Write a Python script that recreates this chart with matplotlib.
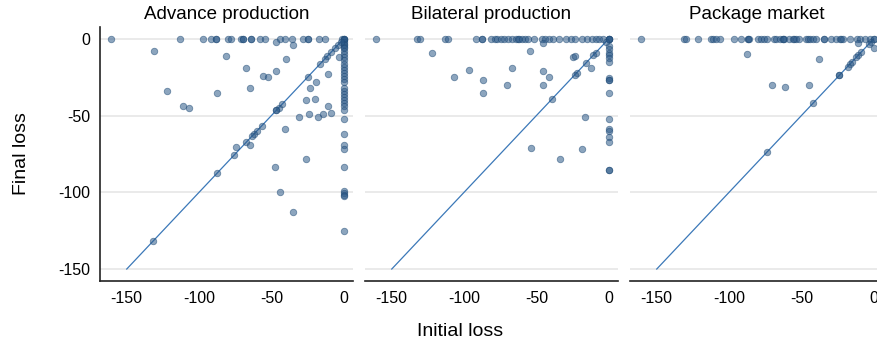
import matplotlib.pyplot as plt
import numpy as np

plt.rcParams['font.family'] = ['Liberation Sans', 'DejaVu Sans']
plt.rcParams['axes.unicode_minus'] = False

titles = ['Advance production', 'Bilateral production', 'Package market']

# Advance production: (initial loss, final loss)
adv_top_x = [-161, -113, -97, -92, -88.5, -88.5, -80, -77.6, -70.7, -69.6, -69.6,
             -63.8, -63.8, -58, -54.6, -44.2, -40.8, -35.7, -28, -24.7, -24.7,
             -17.1, -12.9, -1]
adv_col_y = [0, 0, 0, -1, -2, -3, -4, -5, -6, -8, -10, -12, -14, -16, -18, -20,
             -22, -24, -26, -28, -32, -34, -36, -38, -40, -42, -44, -46, -52,
             -62, -69, -72, -83.5, -99, -100.5, -101.5, -102.5, -125]
adv_diag = [-2, -3.9, -6.2, -8.8, -11.3, -12.9, -16.6, -24.9, -42.6, -44.9, -46.5,
            -46.5, -56.7, -59.7, -62.2, -63.1, -67.3, -75.5, -87.6, -132]
adv_other_x = [-131, -81.5, -47, -34.8, -39.9, -67.7, -46.5, -55.8, -52.5, -64.5,
               -87.6, -122, -111, -107, -11, -18.9, -23, -26, -20, -11, -9, -14.3,
               -18, -24, -30.9, -40.5, -25.8, -64.5, -74.6, -47.7, -43.7, -34.8, -3]
adv_other_y = [-7.8, -10.9, -2, -3.9, -13, -19, -21, -24.2, -25, -32, -35, -34, -44,
               -45, -23, -28, -32, -40, -39, -44, -48, -49, -51, -49, -51, -59, -78,
               -69, -70.4, -83.4, -99.6, -112.6, -12]

# Bilateral production
bil_top_x = [-161, -132.4, -130.6, -113.3, -111, -91.6, -87.6, -87.6, -81.1, -78.8,
             -76.9, -74.6, -72.2, -69.4, -67.1, -64.3, -62.9, -62, -60.1, -57.8,
             -55.5, -51.7, -46.2, -44.3, -41.5, -38.7, -34.1, -29.4, -25.7, -23.3,
             -18.2, -14.7, -11.2, -8.9, -6.5, -4.2, 0]
bil_col_y = [0, 0, 0, -4.6, -6.7, -9, -10.5, -12.6, -14.8, -25.7, -26.8, -26.8,
             -35, -52, -59, -60, -64, -67, -85.6, -85.6]
bil_diag = [-2, -8.9, -10.5, -15.4, -22, -23.5, -39.4]
bil_other_x = [-121.9, -54.5, -45.5, -106.8, -96.7, -86.7, -86.7, -70.6, -66.6,
               -45.5, -41.5, -45.5, -24.7, -23.3, -12.4, -16.3, -53.6, -33.6, -18.7]
bil_other_y = [-8.9, -7.8, -2.4, -25, -20, -27, -35, -30, -19, -21, -25, -30, -12,
               -10.9, -19, -51, -71, -78, -72]

# Package market
pkg_top_x = [-160.8, -131.1, -130, -121.2, -112.6, -110.9, -109.2, -106.1, -96.3,
             -91.7, -87, -87, -85.9, -80.1, -77.8, -75.5, -73.8, -69.2, -67.3, -65,
             -62.9, -62.9, -61.7, -58.2, -55.9, -54.8, -53.6, -51.3, -47.1, -45.5,
             -44.3, -42, -39.7, -34, -34, -29.4, -25.9, -23.5, -22.4, -21.2, -16.5,
             -11.7, -9.3, -5.8, -2.3, 0, 0]
pkg_diag = [-2, -3, -8.6, -10.5, -12, -14.9, -16.3, -18, -23.8, -23.8, -42, -73.4]
pkg_other_x = [-87.4, -38, -11, 0, -70.4, -61.3, -45]
pkg_other_y = [-10, -13, -2.8, -6, -30, -31, -30]

panels = [
    (adv_top_x, adv_col_y, adv_diag, adv_other_x, adv_other_y),
    (bil_top_x, bil_col_y, bil_diag, bil_other_x, bil_other_y),
    (pkg_top_x, [], pkg_diag, pkg_other_x, pkg_other_y),
]

fig = plt.figure(figsize=(8.78, 3.5), dpi=100)
lefts = [100, 365, 630]
axes = []
for i, left in enumerate(lefts):
    ax = fig.add_axes([left / 878, 69 / 350, 253 / 878, 254 / 350])
    axes.append(ax)
    top_x, col_y, diag, ox, oy = panels[i]
    xs = list(top_x) + [0] * len(col_y) + list(diag) + list(ox)
    ys = [0] * len(top_x) + list(col_y) + list(diag) + list(oy)
    ax.plot([-150, 0], [-150, 0], color='#3b78b8', lw=0.9, zorder=2)
    ax.scatter(xs, ys, s=22, color='#2e5b8a', alpha=0.55,
               edgecolor='#1f4a75', linewidth=0.6, zorder=3)
    ax.set_xlim(-168.5, 6.5)
    ax.set_ylim(-157.8, 7.8)
    ax.set_xticks([-150, -100, -50, 0])
    ax.set_yticks([0, -50, -100, -150])
    ax.yaxis.grid(True, color='#e6e6e6', lw=1.2)
    ax.set_axisbelow(True)
    ax.tick_params(length=0, labelsize=11.5, pad=7)
    for s in ['top', 'right']:
        ax.spines[s].set_visible(False)
    ax.spines['bottom'].set_color('#222222')
    ax.spines['bottom'].set_linewidth(1.2)
    if i == 0:
        ax.spines['left'].set_color('#222222')
        ax.spines['left'].set_linewidth(1.2)
        ax.set_ylabel('Final loss', fontsize=14, labelpad=20)
    else:
        ax.spines['left'].set_visible(False)
        ax.set_yticklabels([])
    ax.set_title(titles[i], fontsize=13.5, pad=6)

fig.text(460 / 878, 1 - 331 / 350, 'Initial loss', fontsize=14, ha='center', va='center')
fig.savefig('out.png', dpi=100)
